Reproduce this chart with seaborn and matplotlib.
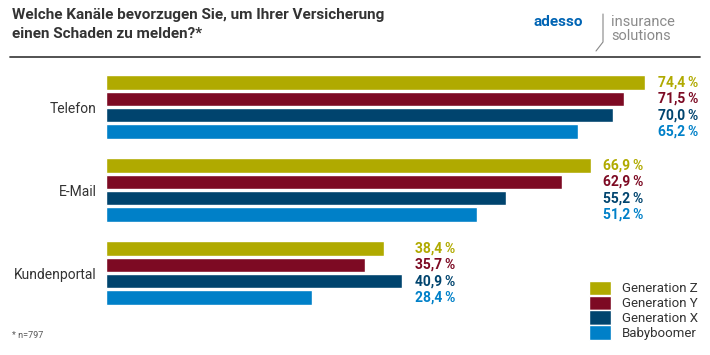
#Bar chart: preferred channels for reporting a claim, by generation

#Import modules
import matplotlib.pyplot as plt
import numpy as np
import pandas as pd
import seaborn as sb
from matplotlib.lines import Line2D

#Data
channels = ['Telefon', 'E-Mail', 'Kundenportal']
generations = ['Generation Z', 'Generation Y', 'Generation X', 'Babyboomer']
gen_z = [74.4, 66.9, 38.4]
gen_y = [71.5, 62.9, 35.7]
gen_x = [70.0, 55.2, 40.9]
boomer = [65.2, 51.2, 28.4]
colors = ['#B0AA00', '#7D0A23', '#00446E', '#0080C8']

values = [gen_z, gen_y, gen_x, boomer]
df = pd.DataFrame({
    'Kanal': channels * 4,
    'Generation': np.repeat(generations, len(channels)),
    'Wert': np.concatenate(values),
})

sb.set_style('white')
plt.rcParams['font.family'] = ['Liberation Sans Narrow', 'Roboto', 'DejaVu Sans']

fig = plt.figure(figsize=(7.1, 3.55), dpi=100)
ax = fig.add_axes([106 / 710, 1 - 314.5 / 355, (700 - 106) / 710, (314.5 - 65.5) / 355])

sb.barplot(data=df, y='Kanal', x='Wert', hue='Generation', hue_order=generations,
           order=channels, orient='h', palette=colors, width=0.78, gap=0.1,
           saturation=1, ax=ax)

ax.set_xlim(0, (700 - 106) / 7.245)
ax.set_xlabel('')
ax.set_ylabel('')
ax.set_xticks([])
sb.despine(ax=ax, left=True, bottom=True)
ax.tick_params(axis='y', length=0, pad=7, labelsize=10, labelcolor='#333333')

#Value labels, right aligned in one column per group
group_max = [max(v[i] for v in values) for i in range(len(channels))]
for cont, col in zip(ax.containers, colors):
    for i, bar in enumerate(cont):
        w = bar.get_width()
        yc = bar.get_y() + bar.get_height() / 2
        ax.text(group_max[i] + 7.3, yc, f'{w:.1f}'.replace('.', ',') + '\u2009%',
                ha='right', va='center', color=col, fontsize=10, fontweight='bold')

#Legend
handles, labels = ax.get_legend_handles_labels()
ax.legend_.remove()
fig.legend(handles, labels, loc='upper left', bbox_to_anchor=(586 / 710, 1 - 278 / 355),
           frameon=False, fontsize=9.5, handlelength=1.7, handleheight=1.3,
           handletextpad=0.8, labelspacing=0.02, labelcolor='#333333', borderaxespad=0,
           borderpad=0.2)

#Title, header line, logo, footnote
fig.text(12 / 710, 1 - 8 / 355, 'Welche Kanäle bevorzugen Sie, um Ihrer Versicherung\neinen Schaden zu melden?*',
         ha='left', va='top', fontsize=11, fontweight='bold', color='#333333', linespacing=1.45)
fig.add_artist(Line2D([10 / 710, 700 / 710], [1 - 57 / 355, 1 - 57 / 355],
                      transform=fig.transFigure, color='#444444', lw=1.3))
fig.text(583 / 710, 1 - 22 / 355, 'adesso', ha='right', va='center', fontsize=11,
         fontweight='bold', color='#0064B4')
fig.add_artist(Line2D([603 / 710, 603 / 710, 596 / 710], [1 - 14 / 355, 1 - 42 / 355, 1 - 51 / 355],
                      transform=fig.transFigure, color='#888888', lw=0.8))
fig.text(611 / 710, 1 - 29 / 355, 'insurance\nsolutions', ha='left', va='center', fontsize=10.5,
         color='#8A8A8A', linespacing=0.95)
fig.text(12 / 710, 1 - 335 / 355, '* n=797', ha='left', va='center', fontsize=6.5, color='#555555')

plt.savefig('out.png', dpi=100)
